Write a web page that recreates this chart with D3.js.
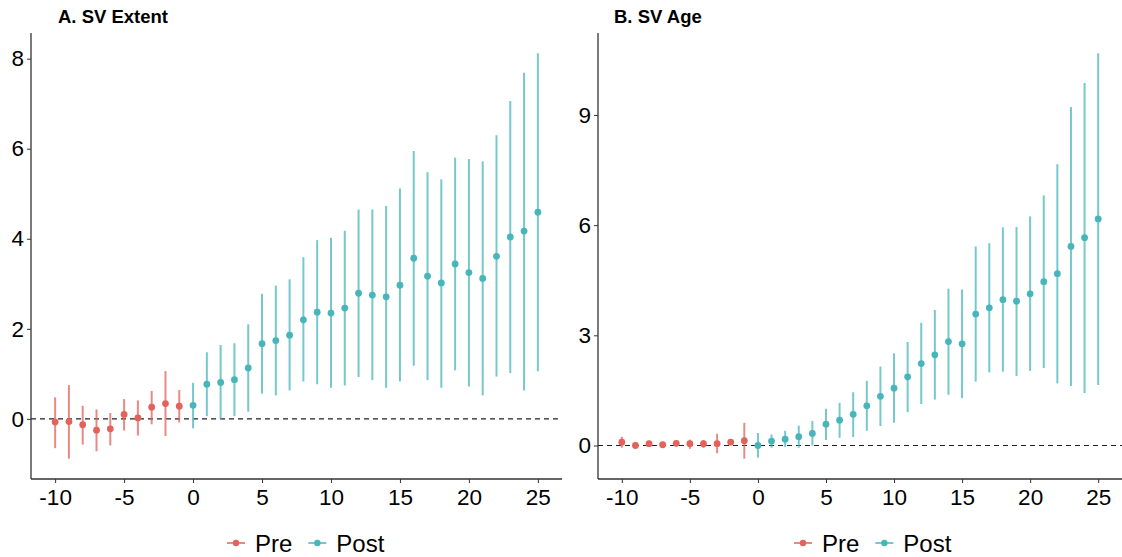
<!DOCTYPE html>
<html>
<head>
<meta charset="utf-8">
<script src="https://cdn.jsdelivr.net/npm/d3@7"></script>
<style>
  body { margin: 0; background: #fff; }
  svg { display: block; font-family: Arial, "Liberation Sans", sans-serif; }
</style>
</head>
<body>
<svg width="1122" height="557"></svg>
<script>
// event time
const periods = d3.range(-10, 26);

// A. SV Extent
const extentEst = [-0.07, -0.06, -0.13, -0.25, -0.22, 0.10, 0.02, 0.26, 0.34, 0.28,
  0.30, 0.77, 0.81, 0.87, 1.13, 1.67, 1.74, 1.86, 2.20, 2.37, 2.35, 2.46, 2.79, 2.75, 2.71,
  2.97, 3.57, 3.17, 3.02, 3.44, 3.25, 3.12, 3.61, 4.04, 4.17, 4.59];
const extentLo = [-0.65, -0.885, -0.57, -0.72, -0.59, -0.26, -0.37, -0.12, -0.38, -0.08,
  -0.21, 0.06, 0.00, 0.06, 0.16, 0.56, 0.52, 0.63, 0.83, 0.77, 0.69, 0.74, 0.93, 0.86, 0.69,
  0.83, 1.18, 0.86, 0.69, 1.08, 0.72, 0.52, 0.94, 1.02, 0.63, 1.06];
const extentHi = [0.48, 0.75, 0.29, 0.21, 0.13, 0.44, 0.41, 0.62, 1.06, 0.64,
  0.80, 1.48, 1.64, 1.68, 2.10, 2.78, 2.96, 3.10, 3.59, 3.97, 4.02, 4.18, 4.65, 4.65, 4.73,
  5.12, 5.95, 5.48, 5.32, 5.80, 5.77, 5.72, 6.30, 7.06, 7.69, 8.12];

// B. SV Age
const ageEst = [0.09, 0.00, 0.05, 0.02, 0.06, 0.05, 0.05, 0.05, 0.09, 0.13,
  0.00, 0.12, 0.17, 0.24, 0.33, 0.58, 0.69, 0.85, 1.08, 1.34, 1.56, 1.87, 2.23, 2.47, 2.83,
  2.77, 3.58, 3.75, 3.97, 3.93, 4.13, 4.46, 4.68, 5.42, 5.66, 6.17];
const ageLo = [-0.06, -0.03, -0.02, -0.04, -0.02, -0.09, -0.07, -0.21, 0.02, -0.36,
  -0.33, -0.06, -0.04, -0.06, 0.00, 0.15, 0.21, 0.23, 0.40, 0.53, 0.62, 0.91, 1.13, 1.25, 1.38,
  1.29, 1.74, 1.99, 2.01, 1.89, 2.03, 2.11, 1.69, 1.62, 1.43, 1.65];
const ageHi = [0.24, 0.05, 0.11, 0.07, 0.13, 0.16, 0.15, 0.32, 0.16, 0.62,
  0.34, 0.30, 0.40, 0.54, 0.67, 1.00, 1.16, 1.45, 1.76, 2.15, 2.51, 2.82, 3.34, 3.69, 4.27,
  4.25, 5.42, 5.51, 5.94, 5.95, 6.24, 6.81, 7.66, 9.22, 9.87, 10.68];

const groups = ['Pre', 'Post'];
const xTicks = [-10, -5, 0, 5, 10, 15, 20, 25];
const extentTicks = [0, 2, 4, 6, 8];
const ageTicks = [0, 3, 6, 9];

const color = d3.scaleOrdinal().domain(groups).range(['#e3625b', '#47b5b9']);
const svg = d3.select('svg');
const fmt = d => String(d);  // plain hyphen for negatives

function panel(opts) {
  const rows = periods.map((t, i) => ({
    t, est: opts.est[i], lo: opts.lo[i], hi: opts.hi[i], grp: t < 0 ? 'Pre' : 'Post'
  }));

  const x = d3.scaleLinear().domain([-11.75, 26.75]).range([opts.left, opts.right]);
  const yMin = d3.min(rows, d => d.lo), yMax = d3.max(rows, d => d.hi);
  const pad = (yMax - yMin) * 0.05;
  const y = d3.scaleLinear().domain([yMin - pad, yMax + pad]).range([479, 33]);

  const g = svg.append('g');

  // title
  g.append('text')
    .attr('x', opts.titleX).attr('y', 23)
    .style('font-size', '18.5px').attr('font-weight', 'bold')
    .text(opts.title);

  // zero reference
  g.append('line')
    .attr('x1', opts.left).attr('x2', opts.right)
    .attr('y1', y(0)).attr('y2', y(0))
    .attr('stroke', '#222').attr('stroke-width', 1.2)
    .attr('stroke-dasharray', '5,4');

  // confidence intervals
  g.selectAll('.ci').data(rows).join('line')
    .attr('x1', d => x(d.t)).attr('x2', d => x(d.t))
    .attr('y1', d => y(d.lo)).attr('y2', d => y(d.hi))
    .attr('stroke', d => color(d.grp)).attr('stroke-width', 2)
    .attr('stroke-opacity', 0.75);

  // estimates
  g.selectAll('.pt').data(rows).join('circle')
    .attr('cx', d => x(d.t)).attr('cy', d => y(d.est))
    .attr('r', 3.4)
    .attr('fill', d => color(d.grp));

  // axes
  const xAxis = g.append('g')
    .attr('transform', `translate(0,${479})`)
    .call(d3.axisBottom(x).tickValues(xTicks).tickFormat(fmt).tickSize(4).tickPadding(4));
  const yAxis = g.append('g')
    .attr('transform', `translate(${opts.left},0)`)
    .call(d3.axisLeft(y).tickValues(opts.ticks).tickFormat(fmt).tickSize(4).tickPadding(3));

  [xAxis, yAxis].forEach(a => {
    a.attr('font-size', null).attr('font-family', null);
    a.select('.domain').attr('stroke', '#333').attr('stroke-width', 1.3);
    a.selectAll('.tick line').attr('stroke', '#333');
    a.selectAll('.tick text')
      .attr('fill', '#000')
      .style('font-size', '22.5px');
  });
  xAxis.select('.domain').attr('d', `M${opts.left},0H${opts.right}`);
  yAxis.select('.domain').attr('d', `M0,${479}V33`);
  xAxis.selectAll('.tick text').attr('dy', '0.78em');

  // legend
  const leg = g.append('g').attr('transform', `translate(${opts.legendX},543)`);
  let off = 0;
  groups.forEach(k => {
    const item = leg.append('g').attr('transform', `translate(${off},0)`);
    item.append('line').attr('x1', 0).attr('x2', 18)
      .attr('stroke', color(k)).attr('stroke-width', 2).attr('stroke-opacity', 0.75);
    item.append('circle').attr('cx', 9).attr('r', 3.2).attr('fill', color(k));
    const txt = item.append('text').attr('x', 28).attr('y', 8.5)
      .style('font-size', '24px').text(k);
    off += 28 + txt.node().getComputedTextLength() + 16;
  });
}

panel({ title: 'A. SV Extent', titleX: 58, left: 31, right: 562, legendX: 227,
  est: extentEst, lo: extentLo, hi: extentHi, ticks: extentTicks });
panel({ title: 'B. SV Age', titleX: 614, left: 598, right: 1122, legendX: 794,
  est: ageEst, lo: ageLo, hi: ageHi, ticks: ageTicks });
</script>
</body>
</html>
